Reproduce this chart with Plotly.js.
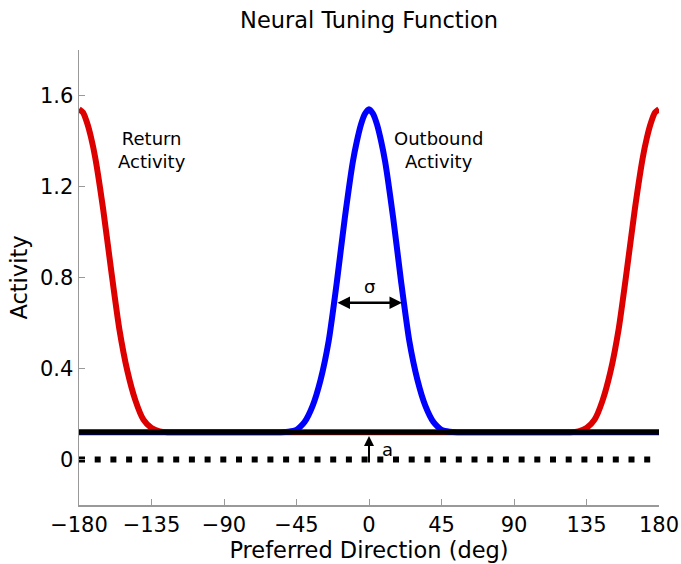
<!DOCTYPE html>
<html>
<head>
<meta charset="utf-8">
<script src="https://cdn.plot.ly/plotly-3.0.1.min.js"></script>
<style>html,body{margin:0;padding:0;background:#fff;}#chart{width:681px;height:564px;}</style>
</head>
<body>
<div id="chart"></div>
<script>
// Outbound (blue) tuning curve, peak at 0 deg
const outboundX = [-180, -60, -55, -50, -45, -40, -35, -30, -25, -20, -15, -10, -7.5, -5, -2.5, 0, 2.5, 5, 7.5, 10, 15, 20, 25, 30, 35, 40, 45, 50, 55, 60, 180];
const outboundY = [0.12, 0.12, 0.12, 0.122, 0.13, 0.165, 0.236, 0.352, 0.522, 0.778, 1.062, 1.31, 1.40, 1.472, 1.52, 1.54, 1.52, 1.472, 1.40, 1.31, 1.062, 0.778, 0.522, 0.352, 0.236, 0.165, 0.13, 0.122, 0.12, 0.12, 0.12];
// Return (red) tuning curve, peak at +/-180 deg
const returnX = [-180, -177.5, -175, -172.5, -170, -165, -160, -155, -150, -145, -140, -135, -130, -125, -120, 120, 125, 130, 135, 140, 145, 150, 155, 160, 165, 170, 172.5, 175, 177.5, 180];
const returnY = [1.54, 1.525, 1.48, 1.415, 1.33, 1.10, 0.83, 0.575, 0.39, 0.26, 0.175, 0.138, 0.124, 0.12, 0.12, 0.12, 0.12, 0.124, 0.138, 0.175, 0.26, 0.39, 0.575, 0.83, 1.10, 1.33, 1.415, 1.48, 1.525, 1.54];
// Baseline activity a and zero line
const baselineX = [-180, 180];
const baselineY = [0.12, 0.12];
const zeroX = [-180, 180];
const zeroY = [0, 0];
const xTicks = [-180, -135, -90, -45, 0, 45, 90, 135, 180];
const yTicks = [0, 0.4, 0.8, 1.2, 1.6];
const sigmaLevel = 0.689;
const sigmaHalf = 20.5;

const FONT = 'DejaVu Sans, Arial, sans-serif';

const traces = [
  {x: returnX, y: returnY, mode: 'lines', line: {color: '#dd0000', width: 6, shape: 'spline', smoothing: 0.6}, hoverinfo: 'skip'},
  {x: outboundX, y: outboundY, mode: 'lines', line: {color: '#0000ff', width: 6, shape: 'spline', smoothing: 0.6}, hoverinfo: 'skip'},
  {x: baselineX, y: baselineY, mode: 'lines', line: {color: '#000000', width: 5}, hoverinfo: 'skip'},
  {x: zeroX, y: zeroY, mode: 'lines', line: {color: '#000000', width: 6, dash: '6px,9.7px'}, hoverinfo: 'skip'}
];

const layout = {
  width: 681, height: 564,
  margin: {l: 78.5, r: 22, t: 50, b: 59},
  paper_bgcolor: '#ffffff', plot_bgcolor: '#ffffff',
  showlegend: false,
  font: {family: FONT, color: '#000000', size: 21},
  title: {text: 'Neural Tuning Function', font: {family: FONT, size: 22.5, color: '#000'}, x: 0.5, xref: 'paper', xanchor: 'center', y: 0.9645, yref: 'container', yanchor: 'middle'},
  xaxis: {
    range: [-180, 180], tickvals: xTicks, ticktext: xTicks.map(v => v < 0 ? '\u2212' + Math.abs(v) : String(v)),
    showgrid: false, zeroline: false, showline: true, linecolor: '#999999', linewidth: 1.5,
    ticks: 'inside', ticklen: 6, tickcolor: '#999999', tickwidth: 1,
    tickfont: {family: FONT, size: 21, color: '#000'},
    title: {text: 'Preferred Direction (deg)', font: {family: FONT, size: 22.5, color: '#000'}, standoff: 4},
    automargin: false, fixedrange: true
  },
  yaxis: {
    range: [-0.2, 1.8], tickvals: yTicks, ticktext: ['0', '0.4', '0.8', '1.2', '1.6'],
    showgrid: false, zeroline: false, showline: true, linecolor: '#999999', linewidth: 1.5,
    ticks: 'inside', ticklen: 6, tickcolor: '#999999', tickwidth: 1,
    tickfont: {family: FONT, size: 21, color: '#000'},
    title: {text: 'Activity', font: {family: FONT, size: 22.5, color: '#000'}, standoff: 6},
    automargin: false, fixedrange: true
  },
  annotations: [
    {x: -134.6, y: 1.359, xref: 'x', yref: 'y', text: 'Return<br>Activity', showarrow: false, font: {family: FONT, size: 18, color: '#000'}, align: 'center'},
    {x: 43.3, y: 1.359, xref: 'x', yref: 'y', text: 'Outbound<br>Activity', showarrow: false, font: {family: FONT, size: 18, color: '#000'}, align: 'center'},
    {x: 0, y: 0.762, xref: 'x', yref: 'y', text: '\u03c3', showarrow: false, font: {family: FONT, size: 18, color: '#000'}},
    {x: sigmaHalf, y: sigmaLevel, ax: -sigmaHalf, ay: sigmaLevel, xref: 'x', yref: 'y', axref: 'x', ayref: 'y', text: '', showarrow: true, arrowhead: 2, arrowside: 'end+start', arrowsize: 1, arrowwidth: 2.5, arrowcolor: '#000'},
    {x: 0, y: 0.103, ax: 0, ay: -0.02, xref: 'x', yref: 'y', axref: 'x', ayref: 'y', text: '', showarrow: true, arrowhead: 2, arrowsize: 1, arrowwidth: 2, arrowcolor: '#000'},
    {x: 11.3, y: 0.045, xref: 'x', yref: 'y', text: 'a', showarrow: false, font: {family: FONT, size: 18, color: '#000'}}
  ]
};

Plotly.newPlot('chart', traces, layout, {staticPlot: true, displayModeBar: false});
</script>
</body>
</html>
